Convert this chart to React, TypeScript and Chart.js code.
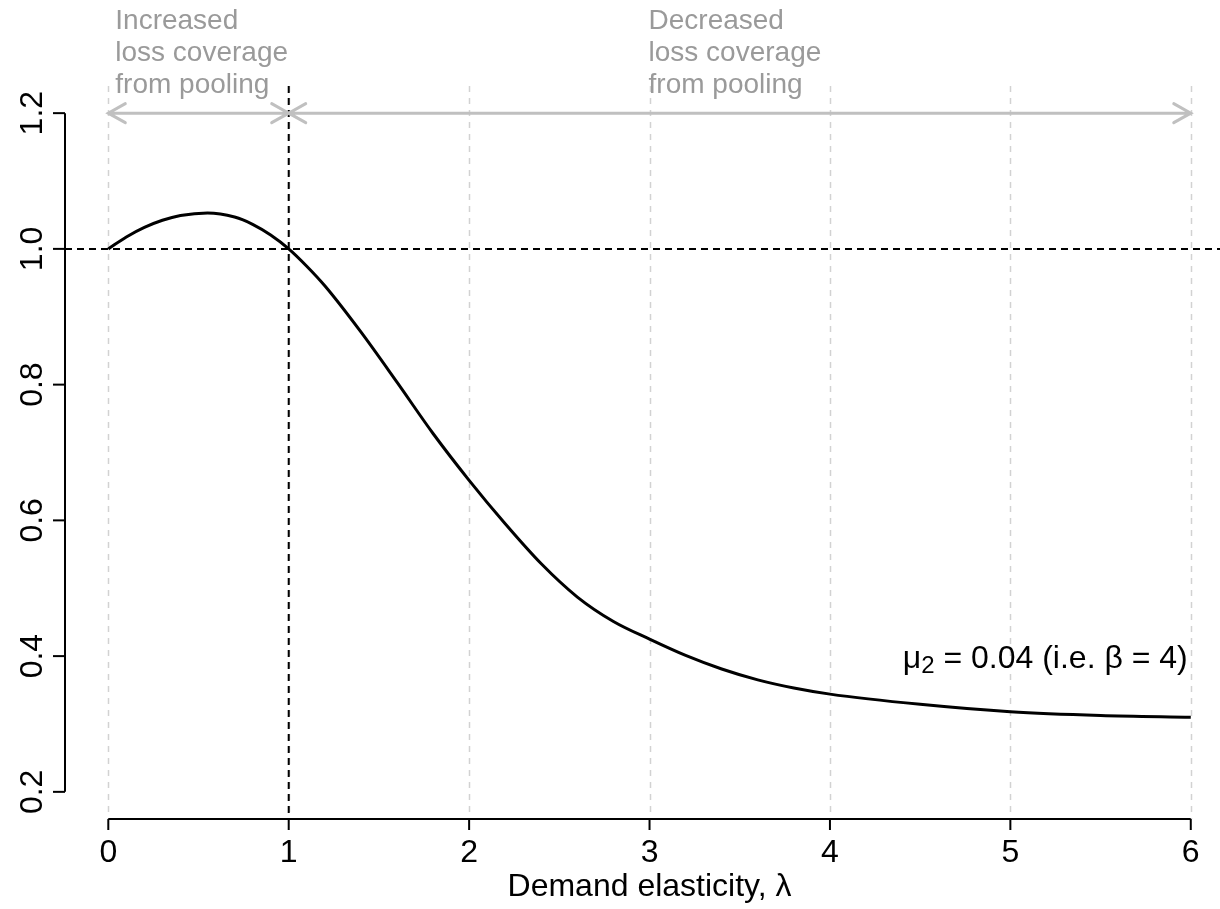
import React, { useEffect, useRef } from "react";
import { Chart, registerables } from "chart.js";

Chart.register(...registerables);

// ---- data ----
const LAMBDA = [0, 0.1, 0.2, 0.3, 0.4, 0.55, 0.7, 0.8, 0.9, 1.0, 1.1, 1.2, 1.4, 1.6, 1.8, 2.0, 2.2, 2.4, 2.6, 2.8, 3.0, 3.2, 3.4, 3.6, 3.8, 4.0, 4.5, 5.0, 5.5, 6.0];
const RATIO = [1.0, 1.0176, 1.0317, 1.0422, 1.0492, 1.053, 1.0469, 1.0362, 1.0204, 1.0, 0.9744, 0.9456, 0.8776, 0.8036, 0.728, 0.659, 0.595, 0.536, 0.487, 0.451, 0.425, 0.401, 0.381, 0.365, 0.353, 0.344, 0.329, 0.318, 0.3125, 0.31];
const X_TICKS = [0, 1, 2, 3, 4, 5, 6];
const X_TICK_LABELS = ["0", "1", "2", "3", "4", "5", "6"];
const Y_TICKS = [0.2, 0.4, 0.6, 0.8, 1.0, 1.2];
const Y_TICK_LABELS = ["0.2", "0.4", "0.6", "0.8", "1.0", "1.2"];
const REF_X = 1;
const REF_Y = 1;
const ARROW_Y = 1.2;
const LEFT_REGION = [0, 1];
const RIGHT_REGION = [1, 6];
const LEFT_TEXT = ["Increased", "loss coverage", "from pooling"];
const RIGHT_TEXT = ["Decreased", "loss coverage", "from pooling"];
const X_TITLE = "Demand elasticity, \u03bb";
const CURVE_LABEL_MAIN = "\u03bc";
const CURVE_LABEL_SUB = "2";
const CURVE_LABEL_REST = " = 0.04 (i.e. \u03b2 = 4)";

const X_MIN = -0.24;
const X_MAX = 6.162;
const Y_MIN = 0.16;
const Y_MAX = 1.24;

const FONT = "'Liberation Sans', Arial, Helvetica, sans-serif";

const overlay = {
  id: "overlay",
  beforeDatasetsDraw(chart: any) {
    const { ctx, scales } = chart;
    const x = scales.x;
    const y = scales.y;
    const top = y.getPixelForValue(Y_MAX);
    const bottom = y.getPixelForValue(Y_MIN);
    ctx.save();
    ctx.strokeStyle = "#d2d2d2";
    ctx.lineWidth = 1.5;
    ctx.setLineDash([6, 6]);
    X_TICKS.forEach((t) => {
      const px = Math.round(x.getPixelForValue(t)) + 0.5;
      ctx.beginPath();
      ctx.moveTo(px, top);
      ctx.lineTo(px, bottom);
      ctx.stroke();
    });
    ctx.strokeStyle = "#000";
    ctx.lineWidth = 2;
    ctx.setLineDash([7, 5]);
    const ry = y.getPixelForValue(REF_Y);
    ctx.beginPath();
    ctx.moveTo(x.getPixelForValue(X_MIN), ry);
    ctx.lineTo(chart.width, ry);
    ctx.stroke();
    const rx = x.getPixelForValue(REF_X);
    ctx.beginPath();
    ctx.moveTo(rx, top);
    ctx.lineTo(rx, bottom);
    ctx.stroke();
    ctx.restore();
  },
  afterDatasetsDraw(chart: any) {
    const { ctx, scales } = chart;
    const x = scales.x;
    const y = scales.y;
    ctx.save();
    ctx.setLineDash([]);
    const axX = x.getPixelForValue(X_MIN);
    ctx.strokeStyle = "#000";
    ctx.lineWidth = 2;
    ctx.beginPath();
    ctx.moveTo(axX, y.getPixelForValue(Y_TICKS[0]));
    ctx.lineTo(axX, y.getPixelForValue(Y_TICKS[Y_TICKS.length - 1]));
    ctx.stroke();
    Y_TICKS.forEach((t) => {
      const py = y.getPixelForValue(t);
      ctx.beginPath();
      ctx.moveTo(axX, py);
      ctx.lineTo(axX - 12, py);
      ctx.stroke();
    });
    ctx.fillStyle = "#000";
    ctx.font = `32px ${FONT}`;
    ctx.textAlign = "center";
    ctx.textBaseline = "alphabetic";
    Y_TICKS.forEach((t, i) => {
      const py = y.getPixelForValue(t);
      ctx.save();
      ctx.translate(42, py);
      ctx.rotate(-Math.PI / 2);
      ctx.fillText(Y_TICK_LABELS[i], 0, 0);
      ctx.restore();
    });
    const axY = y.getPixelForValue(Y_MIN);
    ctx.beginPath();
    ctx.moveTo(x.getPixelForValue(X_TICKS[0]), axY);
    ctx.lineTo(x.getPixelForValue(X_TICKS[X_TICKS.length - 1]), axY);
    ctx.stroke();
    X_TICKS.forEach((t, i) => {
      const px = x.getPixelForValue(t);
      ctx.beginPath();
      ctx.moveTo(px, axY);
      ctx.lineTo(px, axY + 11);
      ctx.stroke();
      ctx.fillText(X_TICK_LABELS[i], px, axY + 43);
    });
    ctx.fillText(X_TITLE, x.getPixelForValue(3), axY + 77);

    const ay = y.getPixelForValue(ARROW_Y);
    ctx.strokeStyle = "#c0c0c0";
    ctx.lineWidth = 3;
    ctx.lineCap = "round";
    const drawArrow = (v1: number, v2: number) => {
      const p1 = x.getPixelForValue(v1);
      const p2 = x.getPixelForValue(v2);
      const hx = 17;
      const hy = 9.5;
      ctx.beginPath();
      ctx.moveTo(p1, ay);
      ctx.lineTo(p2, ay);
      ctx.moveTo(p1 + hx, ay - hy);
      ctx.lineTo(p1, ay);
      ctx.lineTo(p1 + hx, ay + hy);
      ctx.moveTo(p2 - hx, ay - hy);
      ctx.lineTo(p2, ay);
      ctx.lineTo(p2 - hx, ay + hy);
      ctx.stroke();
    };
    drawArrow(LEFT_REGION[0], LEFT_REGION[1]);
    drawArrow(RIGHT_REGION[0], RIGHT_REGION[1]);

    ctx.fillStyle = "#9a9a9a";
    ctx.font = `28px ${FONT}`;
    ctx.textAlign = "left";
    const baselines = [29, 61, 93];
    LEFT_TEXT.forEach((s, i) => ctx.fillText(s, x.getPixelForValue(LEFT_REGION[0]) + 7, baselines[i]));
    RIGHT_TEXT.forEach((s, i) => ctx.fillText(s, x.getPixelForValue(3) - 1, baselines[i]));

    ctx.fillStyle = "#000";
    const mainFont = `32px ${FONT}`;
    const subFont = `24px ${FONT}`;
    ctx.font = mainFont;
    const w1 = ctx.measureText(CURVE_LABEL_MAIN).width;
    const w3 = ctx.measureText(CURVE_LABEL_REST).width;
    ctx.font = subFont;
    const w2 = ctx.measureText(CURVE_LABEL_SUB).width;
    const right = x.getPixelForValue(6) - 3;
    const base = y.getPixelForValue(0.383);
    let cx = right - (w1 + w2 + w3);
    ctx.font = mainFont;
    ctx.fillText(CURVE_LABEL_MAIN, cx, base);
    cx += w1;
    ctx.font = subFont;
    ctx.fillText(CURVE_LABEL_SUB, cx, base + 5);
    cx += w2;
    ctx.font = mainFont;
    ctx.fillText(CURVE_LABEL_REST, cx, base);
    ctx.restore();
  },
};

export default function App() {
  const ref = useRef<HTMLCanvasElement | null>(null);
  useEffect(() => {
    if (!ref.current) return;
    const chart = new Chart(ref.current, {
      type: "line",
      data: {
        datasets: [
          {
            data: LAMBDA.map((l, i) => ({ x: l, y: RATIO[i] })),
            borderColor: "#000",
            borderWidth: 3,
            pointRadius: 0,
            cubicInterpolationMode: "monotone",
            fill: false,
          },
        ],
      },
      options: {
        animation: false,
        responsive: false,
        devicePixelRatio: 1,
        layout: { padding: { left: 65, right: 0, top: 86, bottom: 90 } },
        scales: {
          x: { type: "linear", min: X_MIN, max: X_MAX, display: false },
          y: { type: "linear", min: Y_MIN, max: Y_MAX, display: false },
        },
        plugins: { legend: { display: false }, tooltip: { enabled: false } },
      } as any,
      plugins: [overlay],
    });
    return () => chart.destroy();
  }, []);
  return (
    <div style={{ position: "absolute", left: 0, top: 0, width: 1220, height: 909, background: "#fff" }}>
      <canvas ref={ref} width={1220} height={909} />
    </div>
  );
}
